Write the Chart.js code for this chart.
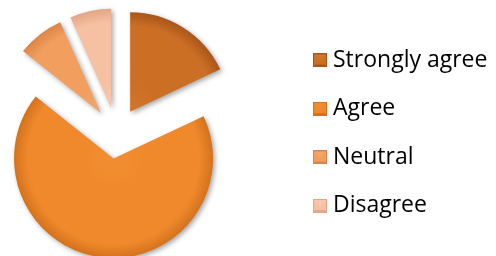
<!DOCTYPE html>
<html><head><meta charset="utf-8">
<script src="https://cdn.jsdelivr.net/npm/chart.js@4/dist/chart.umd.min.js"></script>
<style>html,body{margin:0;padding:0;background:#fff;overflow:hidden;width:496px;height:256px}
#c{display:block;margin-left:-60px}</style>
</head><body>
<canvas id="c" width="556" height="256"></canvas>
<script>
// ---- data ----
const categories = ['Strongly agree', 'Agree', 'Neutral', 'Disagree'];
const values = [18, 67.7, 7.6, 6.7];

// ---- styles ----
const baseColors  = ['#CB6F25', '#EF892C', '#F19E5F', '#F6C0A2'];
const lightColors = ['#D07629', '#F28E32', '#F3A66A', '#F8C8AD'];
const darkColors  = ['#A9561A', '#D4721C', '#DC8546', '#E3A686'];
const RADIUS = 99.5;
const EXPLODE = 25.5;

function sliceGradient(context) {
  const chart = context.chart;
  const area = chart.chartArea;
  const i = context.dataIndex;
  if (!area || i === undefined) return baseColors[i || 0];
  const data = context.dataset.data;
  const total = data.reduce((a, b) => a + b, 0);
  let before = 0;
  for (let k = 0; k < i; k++) before += data[k];
  const mid = -Math.PI / 2 + (before + data[i] / 2) / total * 2 * Math.PI;
  const cx = (area.left + area.right) / 2 + Math.cos(mid) * EXPLODE;
  const cy = (area.top + area.bottom) / 2 + Math.sin(mid) * EXPLODE;
  const g = chart.ctx.createRadialGradient(cx, cy, 0, cx, cy, RADIUS);
  g.addColorStop(0, lightColors[i]);
  g.addColorStop(0.3, baseColors[i]);
  g.addColorStop(0.86, baseColors[i]);
  g.addColorStop(1, darkColors[i]);
  return g;
}

function makeMarker(i) {
  const c = document.createElement('canvas');
  c.width = 14; c.height = 14;
  const x = c.getContext('2d');
  x.fillStyle = baseColors[i];
  x.fillRect(0, 0, 14, 14);
  x.fillStyle = lightColors[i];
  x.beginPath(); x.moveTo(1, 1); x.lineTo(13, 1); x.lineTo(7, 8); x.closePath(); x.fill();
  x.fillStyle = darkColors[i];
  x.beginPath(); x.moveTo(0, 14); x.lineTo(14, 14); x.lineTo(12, 11); x.lineTo(2, 11); x.closePath(); x.fill();
  x.strokeStyle = darkColors[i]; x.lineWidth = 1;
  x.strokeRect(0.5, 0.5, 13, 13);
  return c;
}
const markers = categories.map((_, i) => makeMarker(i));

const explodePlugin = {
  id: 'explodeSlices',
  afterDatasetsUpdate(chart) {
    const meta = chart.getDatasetMeta(0);
    meta.data.forEach(arc => {
      const mid = (arc.startAngle + arc.endAngle) / 2;
      arc.x += Math.cos(mid) * EXPLODE;
      arc.y += Math.sin(mid) * EXPLODE;
    });
  },
  beforeDatasetsDraw(chart) {
    const c = chart.ctx;
    c.save();
    c.shadowColor = 'rgba(0,0,0,0.35)';
    c.shadowBlur = 5;
    c.shadowOffsetX = 2;
    c.shadowOffsetY = 2;
  },
  afterDatasetsDraw(chart) {
    chart.ctx.restore();
  }
};

const baseGen = (Chart.overrides.pie || Chart.overrides.doughnut).plugins.legend.labels.generateLabels;

new Chart(document.getElementById('c'), {
  type: 'pie',
  data: {
    labels: categories,
    datasets: [{
      data: values,
      backgroundColor: sliceGradient,
      borderWidth: 0
    }]
  },
  options: {
    responsive: false,
    animation: false,
    radius: RADIUS,
    layout: { padding: { left: 0, right: 8, top: 10.4, bottom: 0 } },
    plugins: {
      tooltip: { enabled: false },
      legend: {
        position: 'right',
        maxWidth: 195,
        labels: {
          usePointStyle: true,
          pointStyleWidth: 3,
          padding: 25.5,
          color: '#000',
          font: { family: 'Open Sans', size: 23 },
          generateLabels(chart) {
            const items = baseGen(chart);
            items.forEach((it, i) => { it.pointStyle = markers[i]; it.lineWidth = 0; });
            return items;
          }
        }
      }
    }
  },
  plugins: [explodePlugin]
});
</script>
</body></html>
